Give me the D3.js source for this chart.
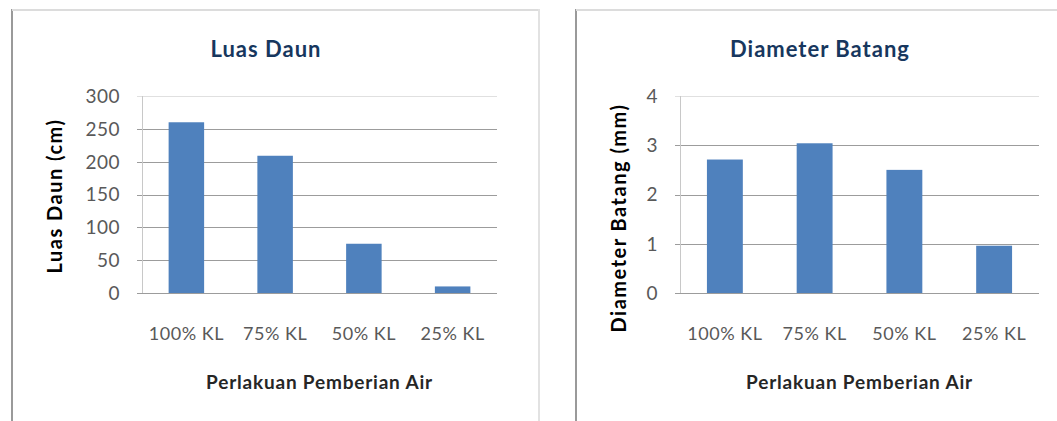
<!DOCTYPE html>
<html>
<head>
<meta charset="utf-8">
<script src="https://cdn.jsdelivr.net/npm/d3@7"></script>
<style>
  body { margin: 0; background: #fff; }
  text { font-family: Lato, "Open Sans", sans-serif; }
</style>
</head>
<body>
<div id="chart"></div>
<script>
// data
let categories = ["100% KL", "75% KL", "50% KL", "25% KL"];
let luasDaun = [260, 209, 75, 10];
let diameterBatang = [2.71, 3.04, 2.5, 0.96];
let luasTicks = [0, 50, 100, 150, 200, 250, 300];
let diamTicks = [0, 1, 2, 3, 4];

let svg = d3.select("#chart")
	.append("svg")
	.attr("width", 1057)
	.attr("height", 421);

function panel(cfg) {
	let g = svg.append("g");

	// frame of the panel
	g.append("line")
		.attr("x1", cfg.frameX).attr("x2", cfg.frameX)
		.attr("y1", 9).attr("y2", 421)
		.attr("stroke", "#9a9a9a").attr("stroke-width", 2);
	g.append("line")
		.attr("x1", cfg.frameX).attr("x2", cfg.frameRight)
		.attr("y1", 10).attr("y2", 10)
		.attr("stroke", "#dcdcdc").attr("stroke-width", 2);
	if (cfg.frameRight < 1057) {
		g.append("line")
			.attr("x1", cfg.frameRight).attr("x2", cfg.frameRight)
			.attr("y1", 9).attr("y2", 421)
			.attr("stroke", "#e2e2e2").attr("stroke-width", 2);
	}

	let x = d3.scaleBand()
		.domain(categories)
		.range([cfg.left, cfg.right])
		.paddingInner(0.6)
		.paddingOuter(0.3);

	let y = d3.scaleLinear()
		.domain([0, d3.max(cfg.ticks)])
		.range([cfg.bottom, cfg.top]);

	// gridlines
	g.selectAll(".grid")
		.data(cfg.ticks)
		.enter()
		.append("line")
		.attr("x1", cfg.left - 5)
		.attr("x2", cfg.right)
		.attr("y1", d => Math.round(y(d)) + 0.5)
		.attr("y2", d => Math.round(y(d)) + 0.5)
		.attr("stroke", (d, i) => i == cfg.ticks.length - 1 ? "#e0e0e0" : "#9c9c9c");

	// y axis line
	g.append("line")
		.attr("x1", cfg.left + 0.5).attr("x2", cfg.left + 0.5)
		.attr("y1", cfg.top).attr("y2", cfg.bottom)
		.attr("stroke", "#c8c8c8");

	// tick labels
	g.selectAll(".ytick")
		.data(cfg.ticks)
		.enter()
		.append("text")
		.attr("x", cfg.left - 22)
		.attr("y", d => y(d))
		.attr("dy", "0.36em")
		.attr("text-anchor", "end")
		.attr("font-size", 19)
		.attr("letter-spacing", 0.5)
		.attr("fill", "#595959")
		.text(d => d);

	// bars
	g.selectAll(".bar")
		.data(cfg.values)
		.enter()
		.append("rect")
		.attr("x", (d, i) => x(categories[i]))
		.attr("y", d => y(d))
		.attr("width", x.bandwidth())
		.attr("height", d => cfg.bottom - y(d))
		.attr("fill", "#4f81bd");

	// category labels
	g.selectAll(".xtick")
		.data(categories)
		.enter()
		.append("text")
		.attr("x", d => x(d) + x.bandwidth() / 2)
		.attr("y", cfg.bottom + 47)
		.attr("text-anchor", "middle")
		.attr("font-size", 18)
		.attr("letter-spacing", 0.5)
		.attr("fill", "#595959")
		.text(d => d);

	// titles
	g.append("text")
		.attr("x", cfg.titleX)
		.attr("y", 57)
		.attr("text-anchor", "middle")
		.attr("font-size", 22)
		.attr("letter-spacing", 1)
		.attr("font-weight", "bold")
		.attr("fill", "#17375e")
		.text(cfg.title);

	g.append("text")
		.attr("x", (cfg.left + cfg.right) / 2)
		.attr("y", 389)
		.attr("text-anchor", "middle")
		.attr("font-size", 19)
		.attr("letter-spacing", 0.8)
		.attr("font-weight", "bold")
		.attr("fill", "#262626")
		.text("Perlakuan Pemberian Air");

	g.append("text")
		.attr("transform", "translate(" + cfg.yTitleX + "," + cfg.yTitleY + ") rotate(-90)")
		.attr("dy", "0.35em")
		.attr("text-anchor", "middle")
		.attr("font-size", 20)
		.attr("letter-spacing", 1.5)
		.attr("font-weight", "bold")
		.attr("fill", "#000")
		.text(cfg.yTitle);
}

panel({
	frameX: 12, frameRight: 539,
	left: 142, right: 497, top: 96, bottom: 293,
	ticks: luasTicks, values: luasDaun,
	title: "Luas Daun", titleX: 266,
	yTitle: "Luas Daun (cm)", yTitleX: 55, yTitleY: 196
});

panel({
	frameX: 576, frameRight: 1057,
	left: 680, right: 1039, top: 96, bottom: 293,
	ticks: diamTicks, values: diameterBatang,
	title: "Diameter Batang", titleX: 820,
	yTitle: "Diameter Batang (mm)", yTitleX: 619, yTitleY: 218
});
</script>
</body>
</html>
